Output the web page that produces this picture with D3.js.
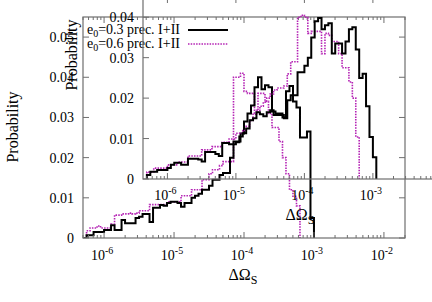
<!DOCTYPE html>
<html>
<head>
<meta charset="utf-8">
<script src="https://cdn.jsdelivr.net/npm/d3@7"></script>
<style>
  body { margin: 0; background: #fff; }
  text { font-family: "Liberation Serif", "DejaVu Serif", serif; }
</style>
</head>
<body>
<div class="fig"></div>
<script>
// histogram bins: 20 per decade, lower edge of first bin at 10^-6.3
var binStart = -6.3, binWidth = 0.05;

// main panel
var mainBlack = [0, 0.0007, 0.0007, 0.0015, 0.0015, 0.0015, 0.002, 0.002, 0.0032, 0.002,
  0.002, 0.0045, 0.0037, 0.0037, 0.0037, 0.005, 0.0053, 0.006, 0.006, 0.004,
  0.0075, 0.0075, 0.0082, 0.008, 0.0087, 0.009, 0.009, 0.0087, 0.0078, 0.0087,
  0.0087, 0.01, 0.0105, 0.011, 0.012, 0.012, 0.013, 0.0145, 0.0145, 0.0157,
  0.0162, 0.0162, 0.02, 0.024, 0.024, 0.026, 0.029, 0.031, 0.033, 0.0375,
  0.040, 0.037, 0.038, 0.0375, 0.0315, 0.031, 0.031, 0.030, 0.0365, 0.0378,
  0.034, 0.0325, 0.025, 0.025, 0.0265, 0.005];
var mainMag = [0, 0.0018, 0.0025, 0.0025, 0.003, 0.0025, 0.0025, 0.0025, 0.0035, 0.0057,
  0.0057, 0.006, 0.006, 0.0062, 0.006, 0.0062, 0.0068, 0.0068, 0.0068, 0.0083,
  0.0083, 0.0083, 0.0083, 0.0083, 0.009, 0.009, 0.009, 0.009, 0.0105, 0.0105,
  0.0105, 0.012, 0.012, 0.012, 0.0145, 0.0145, 0.016, 0.017, 0.017, 0.018,
  0.019, 0.019, 0.019, 0.040, 0.040, 0.041, 0.0365, 0.036, 0.036, 0.031,
  0.036, 0.036, 0.034, 0.031, 0.0275, 0.0275, 0.024, 0.02, 0.016, 0.012,
  0.0104, 0.008];

// inset panel
var insetBlack = [0.001, 0.0018, 0.0018, 0.0022, 0.0022, 0.0022, 0.0027, 0.0035, 0.004, 0.004,
  0.0035, 0.0035, 0.005, 0.005, 0.005, 0.0048, 0.0043, 0.0067, 0.0067, 0.0067,
  0.0062, 0.0057, 0.0089, 0.0089, 0.0086, 0.0086, 0.0091, 0.0105, 0.0113, 0.0125,
  0.0145, 0.015, 0.0165, 0.016, 0.0155, 0.0165, 0.017, 0.0158, 0.0158, 0.0158,
  0.015, 0.0195, 0.0207, 0.0207, 0.0264, 0.0264, 0.028, 0.030, 0.035, 0.039,
  0.0398, 0.037, 0.038, 0.0385, 0.031, 0.0335, 0.0335, 0.031, 0.034, 0.037,
  0.0375, 0.032, 0.025, 0.026, 0.018, 0.0104, 0.0054];
var insetMag = [0.0017, 0.0017, 0.0027, 0.0027, 0.0027, 0.0027, 0.0035, 0.0035, 0.0035, 0.0042,
  0.0042, 0.0042, 0.0057, 0.0057, 0.0057, 0.0057, 0.0072, 0.0072, 0.0072, 0.008,
  0.008, 0.008, 0.0091, 0.0091, 0.0099, 0.0099, 0.0113, 0.0113, 0.012, 0.013,
  0.0145, 0.016, 0.017, 0.018, 0.019, 0.02, 0.021, 0.022, 0.0225, 0.0225,
  0.023, 0.026, 0.029, 0.029, 0.040, 0.0405, 0.040, 0.036, 0.0365, 0.0365,
  0.0365, 0.031, 0.036, 0.0355, 0.034, 0.034, 0.031, 0.0275, 0.0275, 0.024,
  0.02, 0.0104];

var mainYTicks = [0, 0.01, 0.02, 0.03, 0.04, 0.05];
var mainYLabels = ["0", "0.01", "0.02", "0.03", "0.04", "0.05"];
var insetYTicks = [0, 0.01, 0.02, 0.03, 0.04];
var insetYLabels = ["0", "0.01", "0.02", "0.03", "0.04"];
var mainXExp = [-6, -5, -4, -3, -2];
var insetXExp = [-6, -5, -4, -3];
var legendLabels = ["0.3 prec. I+II", "0.6 prec. I+II"];

var W = 432, H = 302;
var black = "#000000", mag = "#b422b4", axisCol = "#6e6e6e";

var svg = d3.select(".fig").append("svg")
  .attr("width", W).attr("height", H);

function bins(values) {
  return values.map(function(v, i) {
    return { x0: Math.pow(10, binStart + binWidth * i), x1: Math.pow(10, binStart + binWidth * (i + 1)), y: v };
  });
}

function stepPath(data, x, y) {
  var pts = [[x(data[0].x0), y(0)]];
  data.forEach(function(d) {
    pts.push([x(d.x0), y(d.y)]);
    pts.push([x(d.x1), y(d.y)]);
  });
  pts.push([x(data[data.length - 1].x1), y(0)]);
  return d3.line()(pts);
}

function minorTicks(x) {
  var [a, b] = x.domain(), out = [];
  for (var e = Math.floor(Math.log10(a)); e <= Math.ceil(Math.log10(b)); e++) {
    for (var m = 1; m < 10; m++) {
      var v = m * Math.pow(10, e);
      if (v >= a && v <= b) out.push({ v: v, major: m === 1 });
    }
  }
  return out;
}

function panel(opt) {
  var x = d3.scaleLog().domain(opt.xDomain).range([opt.left, opt.right]);
  var y = d3.scaleLinear().domain(opt.yDomain).range([opt.bottom, opt.top]);
  var g = svg.append("g");
  var id = "clip" + opt.name;
  g.append("clipPath").attr("id", id).append("rect")
    .attr("x", opt.left).attr("y", opt.top)
    .attr("width", opt.right - opt.left).attr("height", opt.bottom - opt.top);

  // curves
  var cg = g.append("g").attr("clip-path", "url(#" + id + ")");
  cg.append("path").attr("d", stepPath(bins(opt.mag), x, y))
    .attr("fill", "none").attr("stroke", mag).attr("stroke-width", 1.6)
    .attr("stroke-dasharray", "1.5,1.2");
  cg.append("path").attr("d", stepPath(bins(opt.black), x, y))
    .attr("fill", "none").attr("stroke", black).attr("stroke-width", 2);

  // frame
  g.append("rect").attr("x", opt.left).attr("y", opt.top)
    .attr("width", opt.right - opt.left).attr("height", opt.bottom - opt.top)
    .attr("fill", "none").attr("stroke", axisCol).attr("stroke-width", 1.2);

  // x ticks (inside, mirrored)
  minorTicks(x).forEach(function(t) {
    var len = t.major ? 6 : 3, px = x(t.v);
    g.append("line").attr("x1", px).attr("x2", px).attr("y1", opt.bottom).attr("y2", opt.bottom - len)
      .attr("stroke", axisCol);
    g.append("line").attr("x1", px).attr("x2", px).attr("y1", opt.top).attr("y2", opt.top + len)
      .attr("stroke", axisCol);
  });
  opt.xExp.forEach(function(e) {
    var t = g.append("text").attr("x", x(Math.pow(10, e)) - 2).attr("y", opt.bottom + opt.xLabelDy)
      .attr("text-anchor", "middle").attr("font-size", 14);
    t.append("tspan").text("10");
    t.append("tspan").attr("font-size", 10).attr("dy", -6).text("-" + Math.abs(e));
  });

  // y ticks
  opt.yTicks.forEach(function(v, i) {
    var py = y(v);
    g.append("line").attr("x1", opt.left).attr("x2", opt.left + 6).attr("y1", py).attr("y2", py)
      .attr("stroke", axisCol);
    g.append("line").attr("x1", opt.right).attr("x2", opt.right - 6).attr("y1", py).attr("y2", py)
      .attr("stroke", axisCol);
    g.append("text").attr("x", opt.left - 9).attr("y", py + 5)
      .attr("text-anchor", "end").attr("font-size", 14).text(opt.yLabels[i]);
  });

  // axis titles
  var xt = g.append("text").attr("x", opt.xTitle[0]).attr("y", opt.xTitle[1])
    .attr("text-anchor", "middle").attr("font-size", 16);
  xt.append("tspan").text("\u0394\u03A9");
  xt.append("tspan").attr("font-size", 12).attr("dy", 4).text("S");
  g.append("text").attr("transform", "translate(" + opt.yTitle[0] + "," + opt.yTitle[1] + ") rotate(-90)")
    .attr("text-anchor", "middle").attr("font-size", 16).text("Probability");
  return g;
}

// main plot
panel({
  name: "main", left: 83, right: 405, top: 17, bottom: 238,
  xDomain: [5e-7, 2e-2], yDomain: [0, 0.055],
  black: mainBlack, mag: mainMag,
  xExp: mainXExp, xLabelDy: 22, yTicks: mainYTicks, yLabels: mainYLabels,
  xTitle: [243, 280], yTitle: [18, 127]
});

// legend of the main plot
legendLabels.forEach(function(s, i) {
  var ly = 30 + 14 * i;
  var t = svg.append("text").attr("x", 180).attr("y", ly + 4)
    .attr("text-anchor", "end").attr("font-size", 14);
  t.append("tspan").text("e");
  t.append("tspan").attr("font-size", 10).attr("dy", 3).text("0");
  t.append("tspan").attr("dy", -3).text("=" + s);
  svg.append("line").attr("x1", 188).attr("x2", 228).attr("y1", ly).attr("y2", ly)
    .attr("stroke", i === 0 ? black : mag).attr("stroke-width", i === 0 ? 2 : 1.6)
    .attr("stroke-dasharray", i === 0 ? null : "1.5,1.2");
});

// inset plot (drawn over the main one, transparent)
panel({
  name: "inset", left: 143, right: 462, top: -3, bottom: 179,
  xDomain: [4.4e-7, 2e-2], yDomain: [0, 0.045],
  black: insetBlack, mag: insetMag,
  xExp: insetXExp, xLabelDy: 21, yTicks: insetYTicks, yLabels: insetYLabels,
  xTitle: [300, 220], yTitle: [77, 55]
});
</script>
</body>
</html>
